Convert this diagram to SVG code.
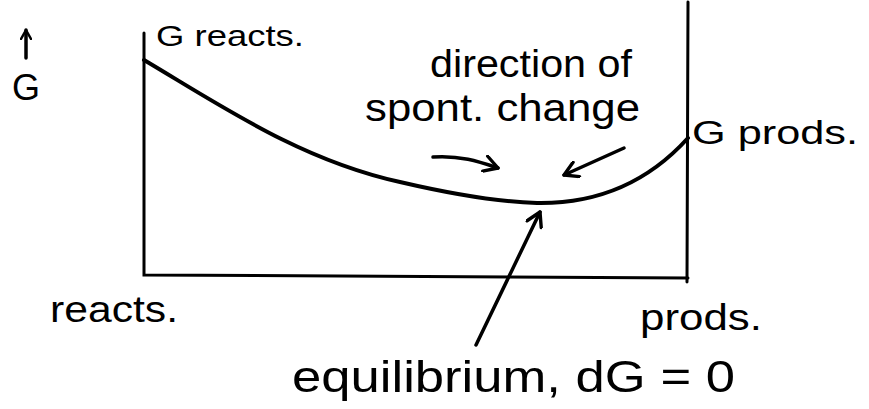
<svg xmlns="http://www.w3.org/2000/svg" width="869" height="409" viewBox="0 0 869 409">
<defs>
<marker id="ah" viewBox="0 0 12 12" refX="10" refY="6" markerWidth="12" markerHeight="12" markerUnits="userSpaceOnUse" orient="auto">
<path d="M1,1 L10,6 L1,11" fill="none" stroke="#000" stroke-width="2.5" stroke-linecap="round" stroke-linejoin="round"/>
</marker>
<marker id="ah2" viewBox="0 0 16 16" refX="14" refY="8" markerWidth="18" markerHeight="18" markerUnits="userSpaceOnUse" orient="auto">
<path d="M2,1 L14,8 L2,15" fill="none" stroke="#000" stroke-width="3" stroke-linecap="round" stroke-linejoin="round"/>
</marker>
</defs>
<style>
text{font-family:"Liberation Sans","DejaVu Sans",sans-serif;fill:#000}
.ax{fill:none;stroke:#000;stroke-width:3;stroke-linecap:round}
.cv{fill:none;stroke:#000;stroke-width:4;stroke-linecap:round}
.ar{fill:none;stroke:#000;stroke-width:3.5;stroke-linecap:round}
</style>
<rect width="869" height="409" fill="#fff"/>
<g id="axes">
<path class="ax" d="M144,33 L144,275 L688,278"/>
<path class="ax" d="M688,2 L687,282"/>
</g>
<g id="curve">
<path class="cv" d="M144,60 C220,105 300,160 400,182 C460,196 500,202 537,203 C600,204 650,180 688,138"/>
</g>
<g id="connectors">
<path class="ar" d="M433,157 C460,155 480,162 498,168" marker-end="url(#ah2)"/>
<path class="ar" d="M624,148 L564,175" marker-end="url(#ah2)"/>
<path class="ar" d="M476,345 L540,212" marker-end="url(#ah2)"/>
<path class="ar" d="M26,58 L26,30" marker-end="url(#ah)"/>
</g>
<g id="labels">
<text x="12" y="100" font-size="36">G</text>
<text x="156" y="46" font-size="30" textLength="148" lengthAdjust="spacingAndGlyphs">G reacts.</text>
<text x="430" y="77" font-size="38" textLength="202" lengthAdjust="spacingAndGlyphs">direction of</text>
<text x="365" y="121" font-size="38" textLength="275" lengthAdjust="spacingAndGlyphs">spont. change</text>
<text x="692" y="144" font-size="34" textLength="166" lengthAdjust="spacingAndGlyphs">G prods.</text>
<text x="50" y="322" font-size="36" textLength="128" lengthAdjust="spacingAndGlyphs">reacts.</text>
<text x="640" y="330" font-size="36" textLength="122" lengthAdjust="spacingAndGlyphs">prods.</text>
<text x="292" y="392" font-size="44" textLength="443" lengthAdjust="spacingAndGlyphs">equilibrium, dG = 0</text>
</g>
</svg>
